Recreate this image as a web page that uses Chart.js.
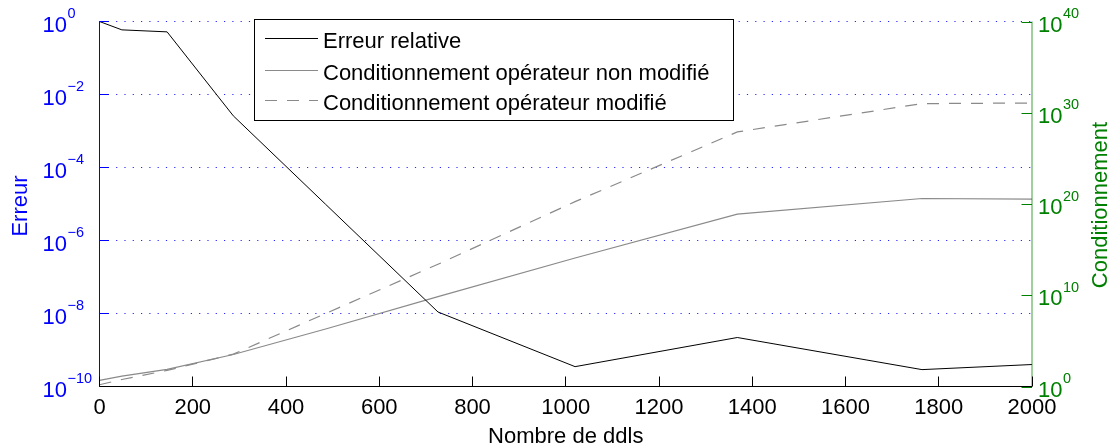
<!DOCTYPE html>
<html>
<head>
<meta charset="utf-8">
<script src="https://cdn.jsdelivr.net/npm/chart.js@4"></script>
<style>
  html, body { margin: 0; padding: 0; background: #fff; }
  canvas { display: block; }
</style>
</head>
<body>
<canvas id="errChart" width="1113" height="448"></canvas>
<script>
// data
const ddls = [0, 48, 145, 287, 485, 726, 1020, 1368, 1764, 2000];
const erreur = [1.0, 0.59, 0.52, 2.6e-3, 9.8e-6, 1.1e-8, 3.5e-10, 2.2e-9, 2.9e-10, 4.0e-10];
const condNonModif = [4.6, 13.5, 74, 3.2e3, 2.0e6, 7.2e9, 1.2e14, 7.9e18, 4.0e20, 3.5e20];
const condModif = [1.55, 5.9, 58, 3.5e3, 1.0e8, 2.5e13, 1.8e20, 7.9e27, 1.0e31, 1.17e31];

const seriesLabels = ['Erreur relative', 'Conditionnement opérateur non modifié', 'Conditionnement opérateur modifié'];
const xTicks = [0, 200, 400, 600, 800, 1000, 1200, 1400, 1600, 1800, 2000];
const leftExps = [0, -2, -4, -6, -8, -10];
const rightExps = [0, 10, 20, 30, 40];

const FONT = "'Liberation Sans', Arial, Helvetica, sans-serif";
const BLUE = '#0000ff';
const GREEN = '#008000';

const pts = vals => ddls.map((x, i) => ({ x: x, y: vals[i] }));

function expText(e) {
    return e < 0 ? '\u2212' + Math.abs(e) : String(e);
}

function drawPow(c, e, x, y, side) {
    c.font = '22px ' + FONT;
    c.textBaseline = 'alphabetic';
    if (side === 'left') {
        c.textAlign = 'right';
        c.fillText('10', x, y + 10);
        c.textAlign = 'left';
        c.font = '14.5px ' + FONT;
        c.fillText(expText(e), x + 0.5, y - 3.4);
    } else {
        c.textAlign = 'left';
        c.fillText('10', x, y + 10);
        const w = c.measureText('10').width;
        c.font = '14.5px ' + FONT;
        c.fillText(expText(e), x + w + 0.5, y - 3.4);
    }
}

const gridPlugin = {
    id: 'gridPlugin',
    beforeDatasetsDraw(chart) {
        const c = chart.ctx, a = chart.chartArea, y = chart.scales.y;
        c.save();
        c.strokeStyle = 'rgba(0,0,255,0.85)';
        c.lineWidth = 1;
        c.setLineDash([1.2, 7.1]);
        leftExps.forEach(e => {
            const py = y.getPixelForValue(Math.pow(10, e));
            c.beginPath();
            c.moveTo(a.left, py);
            c.lineTo(a.right, py);
            c.stroke();
        });
        c.restore();
    }
};

const axesPlugin = {
    id: 'axesPlugin',
    afterDraw(chart) {
        const c = chart.ctx, a = chart.chartArea;
        const sx = chart.scales.x, sy = chart.scales.y, sy2 = chart.scales.y2;
        c.save();
        c.lineWidth = 1;

        // left axis (blue)
        c.strokeStyle = BLUE;
        c.beginPath();
        c.moveTo(a.left, a.top);
        c.lineTo(a.left, a.bottom);
        leftExps.forEach(e => {
            const py = sy.getPixelForValue(Math.pow(10, e));
            c.moveTo(a.left, py);
            c.lineTo(a.left + 9.5, py);
        });
        c.stroke();
        c.fillStyle = BLUE;
        leftExps.forEach(e => {
            drawPow(c, e, 67, sy.getPixelForValue(Math.pow(10, e)), 'left');
        });

        // right axis (green)
        c.strokeStyle = 'rgba(0,128,0,0.75)';
        c.beginPath();
        c.moveTo(a.right, a.top);
        c.lineTo(a.right, a.bottom);
        c.stroke();
        c.strokeStyle = GREEN;
        c.beginPath();
        rightExps.forEach(e => {
            const py = Math.round(sy2.getPixelForValue(Math.pow(10, e))) + 0.5;
            c.moveTo(a.right, py);
            c.lineTo(a.right - 10.5, py);
        });
        c.stroke();
        c.fillStyle = GREEN;
        rightExps.forEach(e => {
            drawPow(c, e, 1038, sy2.getPixelForValue(Math.pow(10, e)), 'right');
        });

        // bottom axis (black)
        c.strokeStyle = '#000';
        c.beginPath();
        c.moveTo(a.left, a.bottom);
        c.lineTo(a.right, a.bottom);
        xTicks.forEach(v => {
            const px = Math.round(sx.getPixelForValue(v) - 0.5) + 0.5;
            c.moveTo(px, a.bottom);
            c.lineTo(px, a.bottom - 10);
        });
        c.stroke();
        c.fillStyle = '#000';
        c.font = '22px ' + FONT;
        c.textAlign = 'center';
        c.textBaseline = 'alphabetic';
        xTicks.forEach(v => c.fillText(String(v), sx.getPixelForValue(v), 413.5));
        c.fillText('Nombre de ddls', (a.left + a.right) / 2, 443);

        // axis titles
        c.save();
        c.translate(26.5, (a.top + a.bottom) / 2 + 2);
        c.rotate(-Math.PI / 2);
        c.fillStyle = BLUE;
        c.fillText('Erreur', 0, 0);
        c.restore();
        c.save();
        c.translate(1107, (a.top + a.bottom) / 2 + 1);
        c.rotate(-Math.PI / 2);
        c.fillStyle = GREEN;
        c.fillText('Conditionnement', 0, 0);
        c.restore();

        // legend box
        c.fillStyle = '#fff';
        c.fillRect(254.5, 19.5, 479, 101);
        c.strokeStyle = '#000';
        c.strokeRect(254.5, 19.5, 479, 101);
        const rowsY = [38, 70, 100];
        const styles = chart.data.datasets;
        rowsY.forEach((ly, i) => {
            c.strokeStyle = styles[i].borderColor;
            c.setLineDash(styles[i].borderDash || []);
            c.beginPath();
            c.moveTo(265, ly + 0.5);
            c.lineTo(318, ly + 0.5);
            c.stroke();
            c.setLineDash([]);
            c.fillStyle = '#000';
            c.textAlign = 'left';
            c.font = '22px ' + FONT;
            c.fillText(seriesLabels[i], 323, ly + 9.5);
        });
        c.restore();
    }
};

const ctx = document.getElementById('errChart').getContext('2d');
new Chart(ctx, {
    type: 'line',
    data: {
        datasets: [{
            label: seriesLabels[0],
            data: pts(erreur),
            yAxisID: 'y',
            borderColor: '#000000',
            borderWidth: 1,
            pointRadius: 0,
            tension: 0,
            clip: 4
        }, {
            label: seriesLabels[1],
            data: pts(condNonModif),
            yAxisID: 'y2',
            borderColor: '#8a8a8a',
            borderWidth: 1.2,
            pointRadius: 0,
            tension: 0,
            clip: 4
        }, {
            label: seriesLabels[2],
            data: pts(condModif),
            yAxisID: 'y2',
            borderColor: '#8a8a8a',
            borderWidth: 1.2,
            borderDash: [12, 10],
            pointRadius: 0,
            tension: 0,
            clip: 4
        }]
    },
    options: {
        responsive: false,
        animation: false,
        devicePixelRatio: 1,
        layout: { padding: { left: 99.5, right: 81, top: 21.5, bottom: 61.5 } },
        plugins: { legend: { display: false }, tooltip: { enabled: false } },
        scales: {
            x: { type: 'linear', min: 0, max: 2000, display: false },
            y: { type: 'logarithmic', min: 1e-10, max: 1, display: false },
            y2: { type: 'logarithmic', position: 'right', min: 1, max: 1e40, display: false }
        }
    },
    plugins: [gridPlugin, axesPlugin]
});
</script>
</body>
</html>
